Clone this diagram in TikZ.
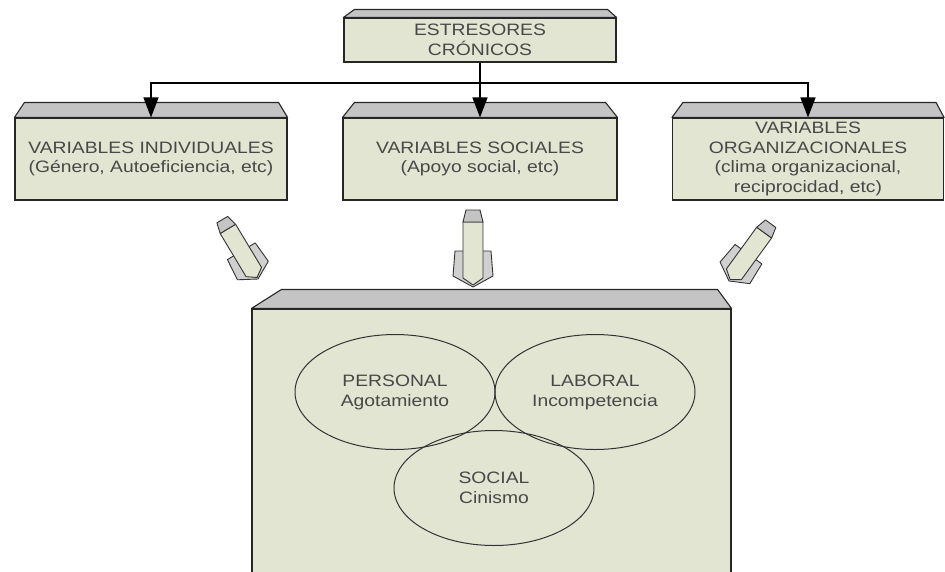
\documentclass[tikz,border=0pt]{standalone}
\usepackage{fontspec}
\setmainfont{Liberation Sans}[FakeStretch=1.17]
\usetikzlibrary{arrows.meta,shapes.geometric}

\definecolor{boxgreen}{RGB}{225,229,209}
\definecolor{topgray}{RGB}{196,196,196}
\definecolor{txtgray}{RGB}{72,72,72}

\tikzset{
  box/.style={draw=black!85,line width=1.1pt,fill=boxgreen,inner sep=0pt,align=center,
    text=txtgray,font=\fontsize{16.5}{19.5}\selectfont},
  bevel/.style={draw=black!85,line width=1.1pt,fill=topgray,line join=round},
  circ/.style={ellipse,draw=black!80,line width=1pt,inner sep=0pt,align=center,text=txtgray,
    font=\fontsize{16.5}{20}\selectfont,minimum width=200pt,minimum height=115pt},
  link/.style={line width=1.4pt,-{Triangle[length=20pt,width=15pt]}},
  bigarrow/.pic={
    \filldraw[draw=black!80,line width=0.9pt,fill=topgray!80,line join=round]
      (-10,-36) -- (-18,-36) -- (-20,-11) -- (0,0) -- (20,-11) -- (18,-36) -- (10,-36) -- cycle;
    \filldraw[draw=black!80,line width=0.9pt,fill=boxgreen,line join=round]
      (-10,-65) -- (10,-65) -- (10,-9) -- (0,-2) -- (-10,-9) -- cycle;
    \filldraw[draw=black!80,line width=0.9pt,fill=topgray,line join=round]
      (-7,-77) -- (7,-77) -- (10,-65) -- (-10,-65) -- cycle;
  }
}

\begin{document}
\begin{tikzpicture}[x=1pt,y=-1pt]
\useasboundingbox (0,0) rectangle (945,571);
\clip (0,0) rectangle (945,571);

\node[box,minimum width=272pt,minimum height=44pt] (top) at (480,40) {ESTRESORES\\CRÓNICOS};
\node[box,minimum width=272pt,minimum height=82pt] (indiv) at (151,159)
  {VARIABLES INDIVIDUALES\\(Género, Autoeficiencia, etc)};
\node[box,minimum width=274pt,minimum height=82pt] (soc) at (480,159)
  {VARIABLES SOCIALES\\(Apoyo social, etc)};
\node[box,minimum width=271pt,minimum height=82pt] (org) at (808,159)
  {VARIABLES\\ORGANIZACIONALES\\(clima organizacional,\\reciprocidad, etc)};
\node[box,minimum width=479pt,minimum height=268pt] (burn) at (491.5,443) {};

% tops of the boxes
\foreach \n/\a/\b/\h in {top/11/9/8,indiv/10/9/15,soc/12/12/15,org/11/8/15,burn/30/14/19}
  \filldraw[bevel] (\n.north west) -- ([shift={(\a,-\h)}]\n.north west)
    -- ([shift={(-\b,-\h)}]\n.north east) -- (\n.north east) -- cycle;

\coordinate (split) at (480,83);
\draw[link] (top.south) -- (soc.north);
\draw[link] (split) -| (indiv.north);
\draw[link] (split) -| (org.north);

\pic[rotate=31,scale=0.9] at (258,279) {bigarrow};
\pic at (473,287) {bigarrow};
\pic[rotate=-36,scale=0.92] at (729,281) {bigarrow};

\node[circ] (pers) at (395,392) {PERSONAL\\Agotamiento};
\node[circ] (lab) at (595,392) {LABORAL\\Incompetencia};
\node[circ] (socl) at (494,488) {SOCIAL\\Cinismo};
\end{tikzpicture}
\end{document}
